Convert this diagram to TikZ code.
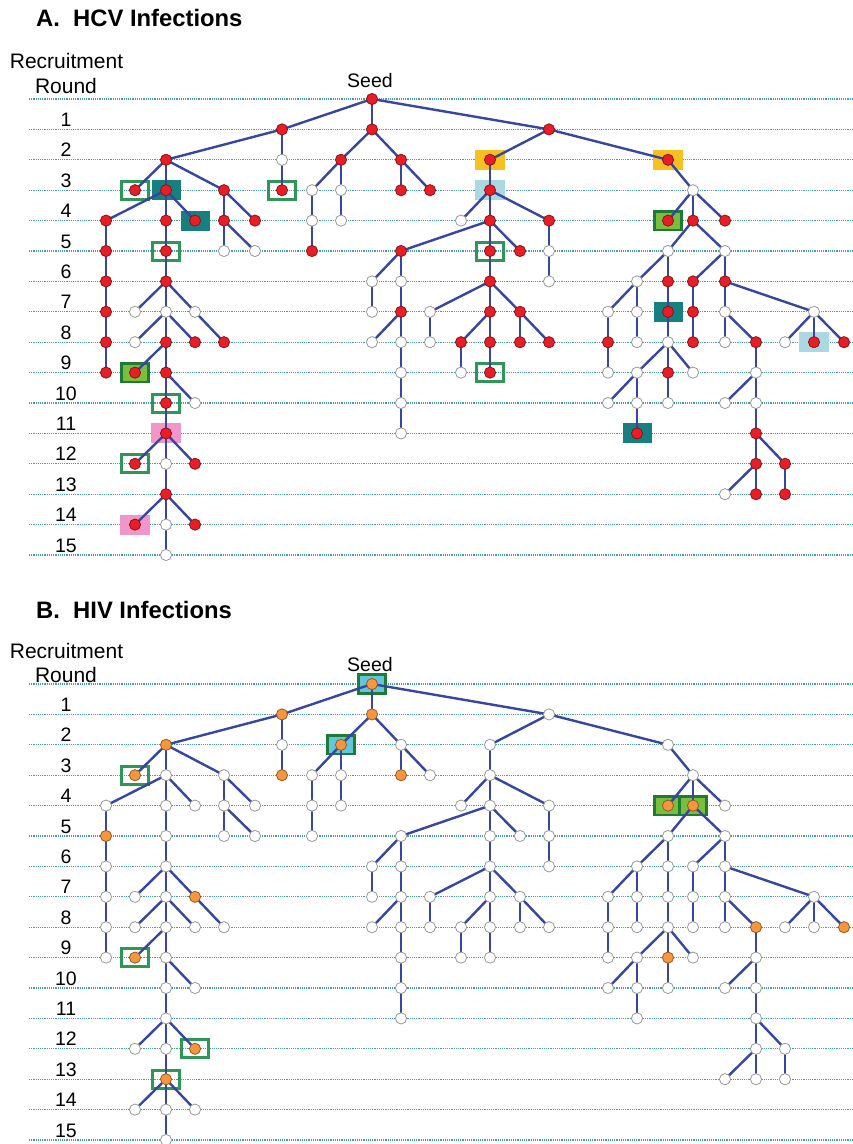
\documentclass[tikz,border=0pt]{standalone}
\usepackage{fontspec}
\setmainfont{Liberation Sans}
\usetikzlibrary{backgrounds}

\pgfdeclarelayer{grid}
\pgfdeclarelayer{boxes}
\pgfdeclarelayer{edges}
\pgfsetlayers{grid,boxes,edges,main}

\definecolor{roundteal}{RGB}{70,160,166}
\definecolor{linkblue}{RGB}{55,70,160}
\definecolor{hcvred}{RGB}{232,30,38}
\definecolor{hivorange}{RGB}{247,150,60}
\definecolor{ringgreen}{RGB}{46,150,86}
\definecolor{tealfill}{RGB}{22,128,128}
\definecolor{limefill}{RGB}{122,190,62}
\definecolor{limeedge}{RGB}{30,122,52}
\definecolor{goldfill}{RGB}{245,192,32}
\definecolor{skyfill}{RGB}{172,216,226}
\definecolor{pinkfill}{RGB}{240,150,200}
\definecolor{cyanfill}{RGB}{100,198,220}

\tikzset{
  roundline/.style={roundteal, line width=1.3pt, dash pattern=on 1.1pt off 1.1pt},
  link/.style={linkblue, line width=2.4pt},
  subject/.style={circle, inner sep=0pt, minimum size=11.2pt, line width=0.8pt, fill=#1, draw=#1!60!black},
  ringbox/.style={rectangle, inner sep=0pt, minimum width=27pt, minimum height=18pt, draw=ringgreen, line width=3pt},
  tealbox/.style={rectangle, inner sep=0pt, minimum width=29pt, minimum height=20pt, fill=tealfill},
  limebox/.style={rectangle, inner sep=0pt, minimum width=27.5pt, minimum height=18.5pt, fill=limefill, draw=limeedge, line width=2.6pt},
  cyanbox/.style={rectangle, inner sep=0pt, minimum width=27.5pt, minimum height=18.5pt, fill=cyanfill, draw=limeedge, line width=2.6pt},
  goldbox/.style={rectangle, inner sep=0pt, minimum width=30pt, minimum height=20pt, fill=goldfill},
  skybox/.style={rectangle, inner sep=0pt, minimum width=30pt, minimum height=20pt, fill=skyfill},
  pinkbox/.style={rectangle, inner sep=0pt, minimum width=30pt, minimum height=20pt, fill=pinkfill},
  paneltitle/.style={anchor=base west, inner sep=0pt, font=\fontsize{23.8}{27}\selectfont\bfseries},
  header/.style={anchor=base, inner sep=0pt, font=\fontsize{21}{24}\selectfont},
  roundno/.style={anchor=base, inner sep=0pt, font=\fontsize{19.5}{22}\selectfont},
  seedtag/.style={anchor=base, inner sep=0pt, font=\fontsize{19.5}{22}\selectfont}
}

% name/x/round/recruiter
\def\treeshape{0a/372/0/0a,
1a/282/1/0a, 1b/372/1/0a, 1c/549/1/0a,
2a/166/2/1a, 2b/282/2/1a, 2c/341/2/1b, 2d/401/2/1b, 2e/490/2/1c, 2f/668/2/1c,
3a/135/3/2a, 3b/166/3/2a, 3c/224/3/2a, 3d/282/3/2b, 3e/312/3/2c, 3f/341/3/2c, 3g/401/3/2d, 3h/430/3/2d, 3i/490/3/2e, 3j/693/3/2f,
4a/106/4/3b, 4b/166/4/3b, 4c/195/4/3b, 4d/224/4/3c, 4e/255/4/3c, 4f/312/4/3e, 4g/341/4/3f, 4h/461/4/3i, 4i/490/4/3i, 4j/549/4/3i, 4k/668/4/3j, 4l/693/4/3j, 4m/725/4/3j,
5a/106/5/4a, 5b/166/5/4b, 5c/224/5/4d, 5d/255/5/4d, 5e/312/5/4f, 5f/401/5/4i, 5g/490/5/4i, 5h/520/5/4i, 5i/549/5/4j, 5j/668/5/4l, 5k/725/5/4l,
6a/106/6/5a, 6b/166/6/5b, 6c/372/6/5f, 6d/401/6/5f, 6e/490/6/5g, 6f/549/6/5i, 6g/637/6/5j, 6h/668/6/5j, 6i/693/6/5k, 6j/725/6/5k,
7a/106/7/6a, 7b/135/7/6b, 7c/166/7/6b, 7d/195/7/6b, 7e/372/7/6c, 7f/401/7/6d, 7g/430/7/6e, 7h/490/7/6e, 7i/520/7/6e, 7j/608/7/6g, 7k/637/7/6g, 7l/668/7/6h, 7m/693/7/6i, 7n/725/7/6j, 7o/814/7/6j,
8a/106/8/7a, 8b/135/8/7c, 8c/166/8/7c, 8d/195/8/7c, 8e/224/8/7d, 8f/372/8/7f, 8g/401/8/7f, 8h/430/8/7g, 8i/461/8/7h, 8j/490/8/7h, 8k/520/8/7i, 8l/549/8/7i, 8m/608/8/7j, 8n/637/8/7k, 8o/668/8/7l, 8p/693/8/7m, 8q/725/8/7n, 8r/756/8/7n, 8s/785/8/7o, 8t/814/8/7o, 8u/844/8/7o,
9a/106/9/8a, 9b/135/9/8c, 9c/166/9/8c, 9d/401/9/8g, 9e/461/9/8i, 9f/490/9/8j, 9g/608/9/8m, 9h/637/9/8o, 9i/668/9/8o, 9j/693/9/8o, 9k/756/9/8r,
10a/166/10/9c, 10b/195/10/9c, 10c/401/10/9d, 10d/608/10/9h, 10e/637/10/9h, 10f/668/10/9i, 10g/725/10/9k, 10h/756/10/9k,
11a/166/11/10a, 11b/401/11/10c, 11c/637/11/10e, 11d/756/11/10h,
12a/135/12/11a, 12b/166/12/11a, 12c/195/12/11a, 12d/756/12/11d, 12e/785/12/11d,
13a/166/13/12b, 13b/725/13/12d, 13c/756/13/12d, 13d/785/13/12e,
14a/135/14/13a, 14b/166/14/13a, 14c/195/14/13a,
15a/166/15/14b}

\newcommand\marknodes[3]{%
  \foreach \nd in {#3}{\expandafter\xdef\csname dot#1\nd\endcsname{#2}}}

\newcommand\drawpanel[3]{% #1 panel, #2 y of seed row, #3 default colour
  \begin{pgfonlayer}{grid}
    \foreach \lv in {0,...,15}
      \draw[roundline] (29,{#2+30.4*\lv}) -- (852,{#2+30.4*\lv});
  \end{pgfonlayer}
  \foreach \lv in {1,...,15}
    \node[roundno] (#1no\lv) at (66,{#2+30.4*\lv-3}) {\lv};
  \foreach \nd/\x/\lv/\up in \treeshape {
    \ifcsname dot#1\nd\endcsname
      \edef\dotcol{\csname dot#1\nd\endcsname}%
    \else
      \def\dotcol{#3}%
    \fi
    \node[subject=\dotcol] (#1\nd) at (\x,{#2+30.4*\lv}) {};
  }
  \begin{pgfonlayer}{edges}
    \foreach \nd/\x/\lv/\up in \treeshape
      \draw[link] (#1\up.center) -- (#1\nd.center);
  \end{pgfonlayer}
}

\marknodes{A}{white}{2b,3e,3f,3j,4f,4g,4h,5c,5d,5i,5j,5k,6c,6d,6f,6g,7b,7c,7d,7e,7g,7j,7k,7n,7o,8b,8f,8g,8h,8n,8o,8q,8s,9d,9e,9g,9h,9j,9k,10b,10c,10d,10e,10f,10g,10h,11b,12b,13b,14b,15a}
\marknodes{B}{hivorange}{0a,1a,1b,2a,2c,3a,3d,3g,4k,4l,5a,7d,8r,8u,9b,9i,12c,13a}

\begin{document}
\begin{tikzpicture}[x=1pt,y=-1pt]
  \useasboundingbox (0,0) rectangle (852,1144);

  %%% A. HCV
  \node[paneltitle] (Atitle) at (36,26) {A.\ \ HCV Infections};
  \node[header] (Arec) at (66.5,68.5) {Recruitment};
  \node[header] (Around) at (66,93) {Round};
  \node[seedtag] (Aseed) at (370,87) {Seed};
  \drawpanel{A}{99}{hcvred}
  \begin{pgfonlayer}{boxes}
    \foreach \nd in {3a,3d,5b,5g,9f,10a,12a} \node[ringbox] (Aring\nd) at (A\nd) {};
    \foreach \nd in {3b,4c,7l,11c} \node[tealbox] (Ateal\nd) at (A\nd) {};
    \foreach \nd in {4k,9b} \node[limebox] (Alime\nd) at (A\nd) {};
    \foreach \nd in {2e,2f} \node[goldbox] (Agold\nd) at (A\nd) {};
    \foreach \nd in {3i,8t} \node[skybox] (Asky\nd) at (A\nd) {};
    \foreach \nd in {11a,14a} \node[pinkbox] (Apink\nd) at (A\nd) {};
  \end{pgfonlayer}

  %%% B. HIV
  \node[paneltitle] (Btitle) at (36,618) {B.\ \ HIV Infections};
  \node[header] (Brec) at (66.5,658) {Recruitment};
  \node[header] (Bround) at (66,682) {Round};
  \node[seedtag] (Bseed) at (370,671.5) {Seed};
  \drawpanel{B}{684}{white}
  \begin{pgfonlayer}{boxes}
    \foreach \nd in {0a,2c} \node[cyanbox] (Bcyan\nd) at (B\nd) {};
    \foreach \nd in {3a,9b,12c,13a} \node[ringbox] (Bring\nd) at (B\nd) {};
    \foreach \nd in {4k,4l} \node[limebox] (Blime\nd) at (B\nd) {};
  \end{pgfonlayer}
\end{tikzpicture}
\end{document}
